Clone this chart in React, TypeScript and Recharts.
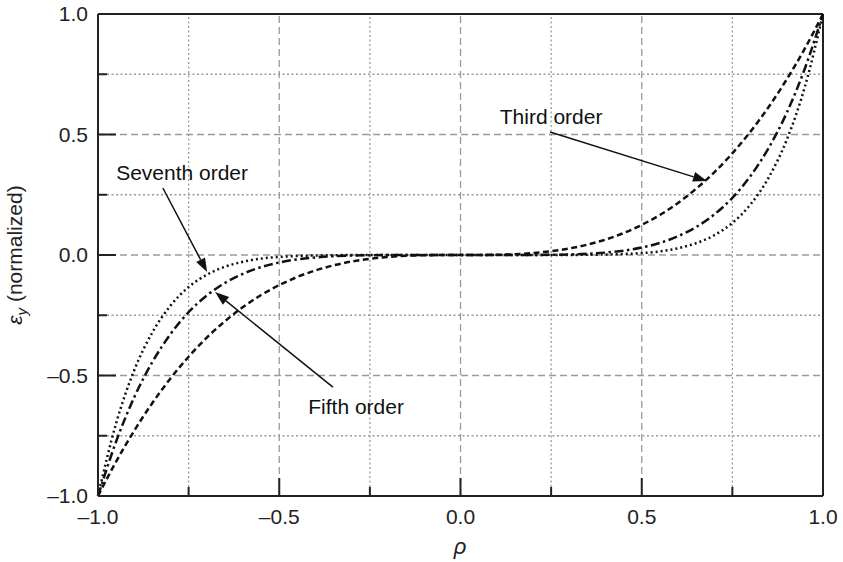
import React from "react";
import {
  LineChart,
  Line,
  XAxis,
  YAxis,
  ReferenceLine,
  ReferenceDot,
} from "recharts";

// values
const rho = [
  -1, -0.95, -0.9, -0.85, -0.8, -0.75, -0.7, -0.65, -0.6, -0.55, -0.5, -0.45, -0.4, -0.35, -0.3, -0.25, -0.2,
  -0.15, -0.1, -0.05, 0, 0.05, 0.1, 0.15, 0.2, 0.25, 0.3, 0.35, 0.4, 0.45, 0.5, 0.55, 0.6, 0.65, 0.7, 0.75,
  0.8, 0.85, 0.9, 0.95, 1,
];
const thirdOrder = [
  -1, -0.857, -0.729, -0.614, -0.512, -0.422, -0.343, -0.275, -0.216, -0.166, -0.125, -0.091, -0.064, -0.043,
  -0.027, -0.016, -0.008, -0.003, -0.001, 0, 0, 0, 0.001, 0.003, 0.008, 0.016, 0.027, 0.043, 0.064, 0.091,
  0.125, 0.166, 0.216, 0.275, 0.343, 0.422, 0.512, 0.614, 0.729, 0.857, 1,
];
const fifthOrder = [
  -1, -0.774, -0.59, -0.444, -0.328, -0.237, -0.168, -0.116, -0.078, -0.05, -0.031, -0.018, -0.01, -0.005,
  -0.002, -0.001, 0, 0, 0, 0, 0, 0, 0, 0, 0, 0.001, 0.002, 0.005, 0.01, 0.018, 0.031, 0.05, 0.078, 0.116,
  0.168, 0.237, 0.328, 0.444, 0.59, 0.774, 1,
];
const seventhOrder = [
  -1, -0.698, -0.478, -0.321, -0.21, -0.133, -0.082, -0.049, -0.028, -0.015, -0.008, -0.004, -0.002, -0.001,
  0, 0, 0, 0, 0, 0, 0, 0, 0, 0, 0, 0, 0, 0.001, 0.002, 0.004, 0.008, 0.015, 0.028, 0.049, 0.082, 0.133, 0.21,
  0.321, 0.478, 0.698, 1,
];

const axisTicks = [-1, -0.75, -0.5, -0.25, 0, 0.25, 0.5, 0.75, 1];
const gridLines = [-0.75, -0.5, -0.25, 0, 0.25, 0.5, 0.75];

const annotations = [
  { text: "Third order", tx: 0.25, ty: 0.573, from: { x: 0.247, y: 0.51 }, to: { x: 0.68, y: 0.307 } },
  { text: "Seventh order", tx: -0.768, ty: 0.34, from: { x: -0.821, y: 0.278 }, to: { x: -0.699, y: -0.071 } },
  { text: "Fifth order", tx: -0.288, ty: -0.631, from: { x: -0.352, y: -0.548 }, to: { x: -0.677, y: -0.154 } },
];

const data = rho.map((r, i) => ({
  rho: r,
  third: thirdOrder[i],
  fifth: fifthOrder[i],
  seventh: seventhOrder[i],
}));

const FONT = '"Liberation Sans", Arial, Helvetica, sans-serif';
const INK = "#222";
const GRID = "#9a9a9a";

const isMajor = (v: number) => Math.abs(v * 2 - Math.round(v * 2)) < 1e-6;
const fmt = (v: number) => (v < 0 ? "\u2013" : "") + Math.abs(v).toFixed(1);

const XTick = ({ x, y, payload }: any) => {
  const major = isMajor(payload.value);
  return (
    <g>
      <line x1={x} x2={x} y1={y} y2={y - (major ? 18 : 9)} stroke={INK} strokeWidth={2} />
      {major && (
        <text x={x} y={y + 28} textAnchor="middle" fontSize={21} fontFamily={FONT} fill={INK}>
          {fmt(payload.value)}
        </text>
      )}
    </g>
  );
};

const YTick = ({ x, y, payload }: any) => {
  const major = isMajor(payload.value);
  return (
    <g>
      <line x1={x} x2={x + (major ? 18 : 9)} y1={y} y2={y} stroke={INK} strokeWidth={2} />
      {major && (
        <text x={x - 10} y={y + 7} textAnchor="end" fontSize={21} fontFamily={FONT} fill={INK}>
          {fmt(payload.value)}
        </text>
      )}
    </g>
  );
};

const Arrow = ({ x1, y1, x2, y2 }: any) => {
  const a = Math.atan2(y2 - y1, x2 - x1);
  const len = 14;
  const w = 5;
  const bx = x2 - len * Math.cos(a);
  const by = y2 - len * Math.sin(a);
  const px = -Math.sin(a) * w;
  const py = Math.cos(a) * w;
  return (
    <g>
      <line x1={x1} y1={y1} x2={bx} y2={by} stroke="#111" strokeWidth={1.5} />
      <polygon points={`${x2},${y2} ${bx + px},${by + py} ${bx - px},${by - py}`} fill="#111" />
    </g>
  );
};

export default function App() {
  return (
    <div style={{ position: "absolute", left: 0, top: 0, background: "#fff" }}>
      <LineChart width={843} height={562} data={data} margin={{ top: 14, right: 20, left: 0, bottom: 0 }}>
        {gridLines.map((v) => (
          <ReferenceLine
            key={`v${v}`}
            x={v}
            stroke={GRID}
            strokeWidth={1.3}
            strokeDasharray={isMajor(v) ? "7 4" : "2 2.5"}
          />
        ))}
        {gridLines.map((v) => (
          <ReferenceLine
            key={`h${v}`}
            y={v}
            stroke={GRID}
            strokeWidth={1.3}
            strokeDasharray={isMajor(v) ? "7 4" : "2 2.5"}
          />
        ))}
        <ReferenceLine y={1} stroke={INK} strokeWidth={2} />
        <ReferenceLine x={1} stroke={INK} strokeWidth={2} />
        <XAxis
          dataKey="rho"
          type="number"
          domain={[-1, 1]}
          ticks={axisTicks}
          interval={0}
          height={66}
          tickSize={0}
          tickMargin={0}
          stroke={INK}
          strokeWidth={2}
          tick={<XTick />}
          label={{
            content: () => (
              <text x={460} y={554} textAnchor="middle" fontSize={22} fontStyle="italic" fontFamily={FONT} fill={INK}>
                ρ
              </text>
            ),
          }}
        />
        <YAxis
          type="number"
          domain={[-1, 1]}
          ticks={axisTicks}
          interval={0}
          width={98}
          tickSize={0}
          tickMargin={0}
          stroke={INK}
          strokeWidth={2}
          tick={<YTick />}
          label={{
            content: () => (
              <text
                x={22}
                y={255}
                transform="rotate(-90, 22, 255)"
                textAnchor="middle"
                fontSize={21}
                fontFamily={FONT}
                fill={INK}
              >
                <tspan fontStyle="italic">ε</tspan>
                <tspan fontStyle="italic" fontSize={15} dy={5}>y</tspan>
                <tspan dy={-5}> (normalized)</tspan>
              </text>
            ),
          }}
        />
        <Line
          dataKey="third"
          type="monotone"
          stroke="#111"
          strokeWidth={2.5}
          strokeDasharray="6 3.5"
          dot={false}
          isAnimationActive={false}
        />
        <Line
          dataKey="fifth"
          type="monotone"
          stroke="#111"
          strokeWidth={2.5}
          strokeDasharray="9 3.5 2.5 3.5"
          dot={false}
          isAnimationActive={false}
        />
        <Line
          dataKey="seventh"
          type="monotone"
          stroke="#111"
          strokeWidth={2.5}
          strokeDasharray="2 3"
          dot={false}
          isAnimationActive={false}
        />
        {annotations.map((a) => (
          <ReferenceLine
            key={`a${a.text}`}
            segment={[a.from, a.to]}
            shape={(p: any) => <Arrow {...p} />}
          />
        ))}
        {annotations.map((a) => (
          <ReferenceDot
            key={`t${a.text}`}
            x={a.tx}
            y={a.ty}
            r={0}
            shape={(p: any) => (
              <text x={p.cx} y={p.cy + 7} textAnchor="middle" fontSize={21} fontFamily={FONT} fill="#111">
                {a.text}
              </text>
            )}
          />
        ))}
      </LineChart>
    </div>
  );
}
